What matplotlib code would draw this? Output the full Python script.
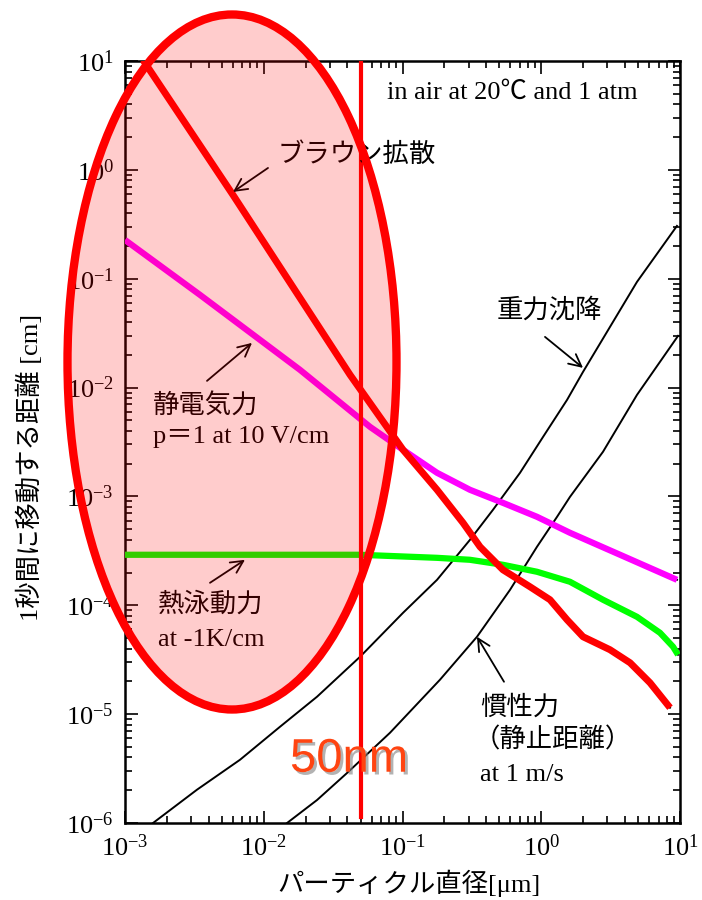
import numpy as np
import matplotlib
matplotlib.use('Agg')
import matplotlib.pyplot as plt
from matplotlib.patches import Ellipse
from matplotlib.ticker import LogLocator, NullFormatter
import matplotlib.patheffects as pe

plt.rcParams['font.family'] = ['Liberation Serif', 'Noto Sans CJK JP']
plt.rcParams['mathtext.fontset'] = 'stix'

# values, as log10 of diameter [um] and of distance in 1 s [cm]
brown_logd = [-2.870, -2.222, -1.378, -0.996, -0.751, -0.564, -0.441, -0.276, -0.081,
              0.063, 0.186, 0.301, 0.495, 0.640, 0.784, 0.928]
brown_logy = [1.009, -0.230, -1.883, -2.572, -2.939, -3.242, -3.463, -3.674, -3.830,
              -3.949, -4.133, -4.289, -4.408, -4.528, -4.712, -4.941]

elec_logd = [-3.0, -2.459, -1.739, -1.234, -0.996, -0.751, -0.514, -0.276, -0.031,
             0.207, 0.568, 0.978]
elec_logy = [-0.644, -1.149, -1.837, -2.361, -2.572, -2.783, -2.939, -3.059, -3.187,
             -3.334, -3.536, -3.766]

thermo_logd = [-3.0, -2.099, -1.306, -0.751, -0.514, -0.276, -0.031, 0.207, 0.445,
               0.690, 0.856, 0.950, 0.986]
thermo_logy = [-3.536, -3.536, -3.536, -3.564, -3.582, -3.628, -3.692, -3.784, -3.949,
               -4.106, -4.253, -4.381, -4.455]

grav_logd = [-2.798, -2.481, -2.171, -1.883, -1.616, -1.306, -0.996, -0.751, -0.514,
             -0.348, -0.153, 0.013, 0.186, 0.301, 0.690, 0.978]
grav_logy = [-6.0, -5.694, -5.419, -5.116, -4.840, -4.473, -4.069, -3.766, -3.399,
             -3.123, -2.783, -2.453, -2.113, -1.856, -1.029, -0.515]

inert_logd = [-1.832, -1.616, -1.400, -1.090, -0.730, -0.463, -0.225, -0.031, 0.114,
              0.207, 0.445, 0.690, 0.986]
inert_logy = [-6.0, -5.789, -5.541, -5.171, -4.684, -4.289, -3.858, -3.463, -3.187,
              -3.004, -2.590, -2.067, -1.525]

cut_d = 0.05  # 50 nm marker


def px(x, y):
    # pixel position in the 702x900 picture -> data coordinates
    return 10 ** (-3 + (x - 125) / 138.75), 10 ** (1 - (y - 61) / 108.9)


def curve(logd, logy):
    return 10 ** np.array(logd), 10 ** np.array(logy)


brown = curve(brown_logd, brown_logy)
elec = curve(elec_logd, elec_logy)
thermo = curve(thermo_logd, thermo_logy)
grav = curve(grav_logd, grav_logy)
inert = curve(inert_logd, inert_logy)

fig = plt.figure(figsize=(7.02, 9.0), dpi=100)
ax = fig.add_axes([125 / 702, 1 - 823 / 900, 555 / 702, 762 / 900])
ax.set_xscale('log')
ax.set_yscale('log')
ax.set_xlim(1e-3, 10)
ax.set_ylim(1e-6, 10)

blk = dict(color='black', lw=1.4, zorder=2)
for c in (brown, elec, thermo, grav, inert):
    ax.plot(*c, **blk)

ax.plot(*elec, color='#ff00ff', lw=4.5, zorder=3, solid_capstyle='butt')
ax.plot(*thermo, color='#00ff00', lw=4.5, zorder=3, solid_capstyle='butt')
ax.plot(*brown, color='#ff0000', lw=5, zorder=4, solid_capstyle='butt')
ax.axvline(cut_d, ymin=0.008, ymax=0.997, color='#ff0000', lw=3, zorder=5)

for sp in ax.spines.values():
    sp.set_linewidth(1.8)
for axis in (ax.xaxis, ax.yaxis):
    axis.set_major_locator(LogLocator(base=10, numticks=20))
    axis.set_minor_locator(LogLocator(base=10, subs=np.arange(2, 10), numticks=100))
    axis.set_minor_formatter(NullFormatter())
ax.tick_params(which='both', direction='in', top=True, right=True, width=1.2)
ax.tick_params(which='major', length=9, labelsize=19, pad=8)
ax.tick_params(which='minor', length=5)

fs = 19
ax.text(*px(387, 93), 'in air at 20℃ and 1 atm', fontsize=fs, va='center', zorder=6)
ax.text(*px(278, 155), 'ブラウン拡散', fontsize=fs, va='center', zorder=6)
ax.text(*px(497, 310), '重力沈降', fontsize=fs, va='center', zorder=6)
ax.text(*px(153, 405), '静電気力', fontsize=fs, va='center', zorder=6)
ax.text(*px(153, 437), 'p＝1 at 10 V/cm', fontsize=fs, va='center', zorder=6)
ax.text(*px(158, 605), '熱泳動力', fontsize=fs, va='center', zorder=6)
ax.text(*px(158, 640), 'at -1K/cm', fontsize=fs, va='center', zorder=6)
ax.text(*px(480, 708), '慣性力', fontsize=fs, va='center', zorder=6)
ax.text(*px(474, 740), '（静止距離）', fontsize=fs, va='center', zorder=6)
ax.text(*px(480, 775), 'at 1 m/s', fontsize=fs, va='center', zorder=6)

arrows = [((268, 168), (233, 192)), ((545, 337), (583, 368)),
          ((207, 381), (252, 343)), ((210, 583), (245, 560)),
          ((504, 682), (477, 637))]
for tail, tip in arrows:
    ax.annotate('', xy=px(*tip), xytext=px(*tail), zorder=6,
                arrowprops=dict(arrowstyle='->', lw=1.3, color='black',
                                mutation_scale=22, shrinkA=0, shrinkB=0))

ax.text(*px(290, 760), '50nm', fontsize=34, color='#ff4411', va='center',
        family='Liberation Sans', zorder=7,
        path_effects=[pe.withSimplePatchShadow(offset=(2, -2), shadow_rgbFace='gray', alpha=0.6)])

fig.text(30 / 702, 1 - 467 / 900, '1秒間に移動する距離 [cm]', fontsize=19,
         rotation=90, ha='center', va='center')
fig.text(409 / 702, 1 - 883 / 900, 'パーティクル直径[μm]', fontsize=19,
         ha='center', va='center')

ell = Ellipse((232 / 702, 1 - 362 / 900), 329 / 702, 695 / 900,
              transform=fig.transFigure, facecolor=(1, 0, 0, 0.2),
              edgecolor='#ff0000', lw=6, clip_on=False, zorder=10)
ax.add_patch(ell)

fig.savefig('out.png', dpi=100)
